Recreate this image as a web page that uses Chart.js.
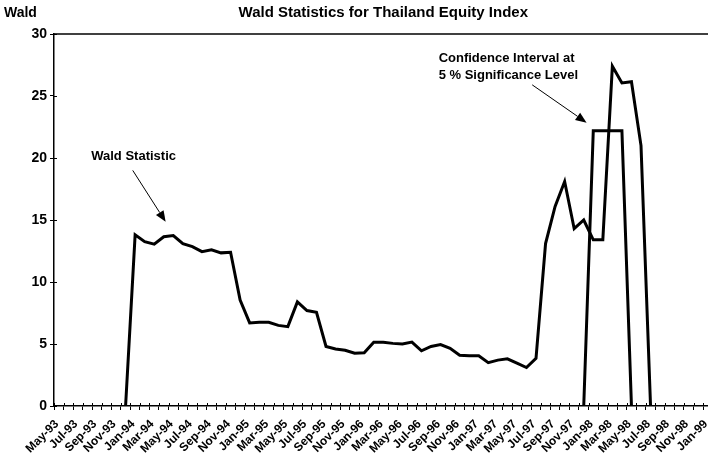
<!DOCTYPE html>
<html>
<head>
<meta charset="utf-8">
<title>Wald Statistics for Thailand Equity Index</title>
<script src="https://cdn.jsdelivr.net/npm/chart.js@4.4.1/dist/chart.umd.min.js"></script>
<style>
    html, body { margin: 0; padding: 0; background: #fff; overflow: hidden; }
    canvas { display: block; }
</style>
</head>
<body>
<canvas id="waldChart" width="725" height="458"></canvas>
<script>
const MONTHS = [
    "May-93", "Jun-93", "Jul-93", "Aug-93", "Sep-93", "Oct-93", "Nov-93", "Dec-93",
    "Jan-94", "Feb-94", "Mar-94", "Apr-94", "May-94", "Jun-94", "Jul-94", "Aug-94",
    "Sep-94", "Oct-94", "Nov-94", "Dec-94", "Jan-95", "Feb-95", "Mar-95", "Apr-95",
    "May-95", "Jun-95", "Jul-95", "Aug-95", "Sep-95", "Oct-95", "Nov-95", "Dec-95",
    "Jan-96", "Feb-96", "Mar-96", "Apr-96", "May-96", "Jun-96", "Jul-96", "Aug-96",
    "Sep-96", "Oct-96", "Nov-96", "Dec-96", "Jan-97", "Feb-97", "Mar-97", "Apr-97",
    "May-97", "Jun-97", "Jul-97", "Aug-97", "Sep-97", "Oct-97", "Nov-97", "Dec-97",
    "Jan-98", "Feb-98", "Mar-98", "Apr-98", "May-98", "Jun-98", "Jul-98", "Aug-98",
    "Sep-98", "Oct-98", "Nov-98", "Dec-98", "Jan-99",
];

const WALD_STATISTIC = [
    null, null, null, null, null, null, null, 0,
    13.8, 13.25, 13.05, 13.65, 13.75, 13.1, 12.85, 12.45,
    12.6, 12.35, 12.4, 8.55, 6.7, 6.75, 6.75, 6.5,
    6.4, 8.4, 7.7, 7.55, 4.8, 4.6, 4.5, 4.25,
    4.3, 5.15, 5.15, 5.05, 5.0, 5.15, 4.45, 4.8,
    4.95, 4.65, 4.1, 4.05, 4.05, 3.5, 3.7, 3.8,
    3.45, 3.1, 3.85, 13.1, 16.1, 18.1, 14.3, 15.0,
    13.4, 13.4, 27.4, 26.05, 26.15, 21.0, 0, null,
    null, null, null, null, null,
];

const CONFIDENCE_INTERVAL = [
    null, null, null, null, null, null, null, null,
    null, null, null, null, null, null, null, null,
    null, null, null, null, null, null, null, null,
    null, null, null, null, null, null, null, null,
    null, null, null, null, null, null, null, null,
    null, null, null, null, null, null, null, null,
    null, null, null, null, null, null, null, 0,
    22.2, 22.2, 22.2, 22.2, 0, null, null, null,
    null, null, null, null, null,
];

const Y_TICKS = [0, 5, 10, 15, 20, 25, 30];

const CHART_TITLE = "Wald Statistics for Thailand Equity Index";
const Y_TITLE = "Wald";
const FONT_FAMILY = "'Liberation Sans', Arial, Helvetica, sans-serif";

// text notes with arrows, placed in data units (category index, value)
const NOTES = [
    { lines: ["Wald Statistic"], at: [3.4, 20.1], arrow: [[7.75, 19.0], [11.2, 14.85]] },
    { lines: ["Confidence Interval at", "5 % Significance Level"], at: [39.8, 28.05], arrow: [[49.6, 25.9], [55.3, 22.85]] },
];

let waldPage = {};

waldPage.drawArrow = function (ctx, x1, y1, x2, y2) {
    let angle = Math.atan2(y2 - y1, x2 - x1);
    let headLength = 11;
    let headWidth = 4.5;
    ctx.beginPath();
    ctx.moveTo(x1, y1);
    ctx.lineTo(x2 - Math.cos(angle) * headLength, y2 - Math.sin(angle) * headLength);
    ctx.stroke();
    ctx.beginPath();
    ctx.moveTo(x2, y2);
    ctx.lineTo(x2 - Math.cos(angle) * headLength - Math.sin(angle) * headWidth,
        y2 - Math.sin(angle) * headLength + Math.cos(angle) * headWidth);
    ctx.lineTo(x2 - Math.cos(angle) * headLength + Math.sin(angle) * headWidth,
        y2 - Math.sin(angle) * headLength - Math.cos(angle) * headWidth);
    ctx.closePath();
    ctx.fill();
};

waldPage.decorations = {
    id: "waldDecorations",
    afterDraw(chart) {
        let ctx = chart.ctx;
        let area = chart.chartArea;
        let xScale = chart.scales.x;
        let yScale = chart.scales.y;

        ctx.save();
        ctx.strokeStyle = "#000";
        ctx.fillStyle = "#000";

        // top frame line
        ctx.lineWidth = 1.5;
        ctx.beginPath();
        ctx.moveTo(area.left, area.top);
        ctx.lineTo(area.right + 10, area.top);
        ctx.stroke();

        // inner half of the cross-shaped tick marks
        ctx.lineWidth = 1;
        for (let i = 0; i <= MONTHS.length; i++) {
            let px = Math.round(xScale.getPixelForValue(i - 0.5)) + 0.5;
            ctx.beginPath();
            ctx.moveTo(px, area.bottom);
            ctx.lineTo(px, area.bottom - 3);
            ctx.stroke();
        }
        for (const v of Y_TICKS) {
            let py = Math.round(yScale.getPixelForValue(v)) + 0.5;
            ctx.beginPath();
            ctx.moveTo(area.left, py);
            ctx.lineTo(area.left + 3, py);
            ctx.stroke();
        }

        // titles
        ctx.textBaseline = "middle";
        ctx.font = "bold 15px " + FONT_FAMILY;
        ctx.textAlign = "center";
        ctx.fillText(CHART_TITLE, (area.left + area.right) / 2, 13);
        ctx.font = "bold 14px " + FONT_FAMILY;
        ctx.textAlign = "left";
        ctx.fillText(Y_TITLE, 4, 13);

        // notes
        ctx.font = "bold 13px " + FONT_FAMILY;
        for (const note of NOTES) {
            let tx = xScale.getPixelForValue(note.at[0]);
            let ty = yScale.getPixelForValue(note.at[1]);
            note.lines.forEach(function (line, i) {
                ctx.fillText(line, tx, ty + i * 17);
            });
            ctx.lineWidth = 1;
            waldPage.drawArrow(ctx,
                xScale.getPixelForValue(note.arrow[0][0]), yScale.getPixelForValue(note.arrow[0][1]),
                xScale.getPixelForValue(note.arrow[1][0]), yScale.getPixelForValue(note.arrow[1][1]));
        }
        ctx.restore();
    },
};

waldPage.chart = new Chart(document.getElementById("waldChart"), {
    type: "line",
    data: {
        labels: MONTHS,
        datasets: [
            {
                label: "Wald Statistic",
                data: WALD_STATISTIC,
                borderColor: "#000",
                borderWidth: 3,
                pointRadius: 0,
                tension: 0,
                spanGaps: false,
            },
            {
                label: "Confidence Interval",
                data: CONFIDENCE_INTERVAL,
                borderColor: "#000",
                borderWidth: 3,
                pointRadius: 0,
                tension: 0,
                spanGaps: false,
            },
        ],
    },
    options: {
        responsive: false,
        devicePixelRatio: 1,
        animation: false,
        layout: {
            padding: { top: 34, left: 0, right: 0, bottom: 0 },
        },
        plugins: {
            legend: { display: false },
            title: { display: false },
            tooltip: { enabled: false },
        },
        scales: {
            x: {
                offset: true,
                grid: {
                    offset: true,
                    drawOnChartArea: false,
                    color: "#000",
                    tickLength: 4,
                },
                border: { color: "#000", width: 1.5 },
                ticks: {
                    autoSkip: false,
                    minRotation: 45,
                    maxRotation: 45,
                    padding: 7,
                    labelOffset: -2,
                    color: "#000",
                    font: { family: FONT_FAMILY, size: 12, weight: "bold" },
                    callback: function (value, index) {
                        return index % 2 == 0 ? MONTHS[index] : "";
                    },
                },
                afterFit: function (scale) {
                    scale.height = 52;
                },
            },
            y: {
                min: 0,
                max: 30,
                ticks: {
                    stepSize: 5,
                    padding: 3,
                    color: "#000",
                    font: { family: FONT_FAMILY, size: 14, weight: "bold" },
                },
                grid: {
                    drawOnChartArea: false,
                    color: "#000",
                    tickLength: 4,
                },
                border: { color: "#000", width: 1.5 },
                afterFit: function (scale) {
                    scale.width = 54;
                },
            },
        },
    },
    plugins: [waldPage.decorations],
});
</script>
</body>
</html>
